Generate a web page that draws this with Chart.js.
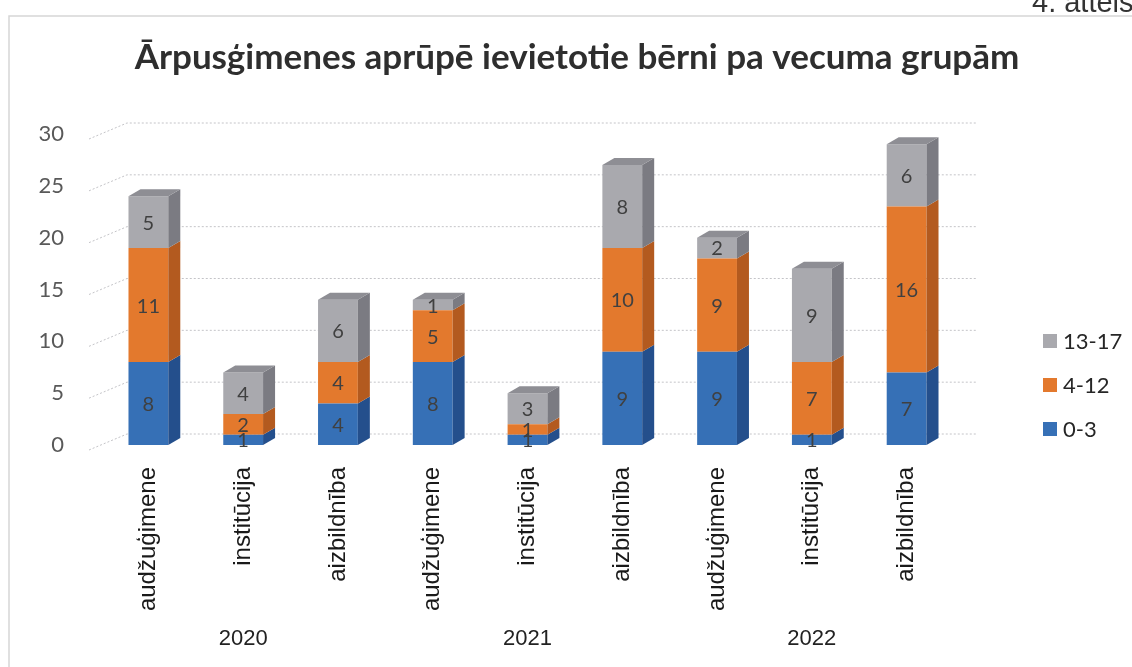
<!DOCTYPE html>
<html>
<head>
<meta charset="utf-8">
<script src="https://cdn.jsdelivr.net/npm/chart.js@4.4.1/dist/chart.umd.min.js"></script>
<style>
  html, body { margin: 0; padding: 0; background: #fff; }
  #wrap { position: relative; width: 1132px; height: 667px; }
</style>
</head>
<body>
<div id="wrap"><canvas id="myChart" width="1132" height="667"></canvas></div>
<script>
// --- dados ---
const categories = ['audžuģimene', 'institūcija', 'aizbildnība',
                    'audžuģimene', 'institūcija', 'aizbildnība',
                    'audžuģimene', 'institūcija', 'aizbildnība'];
const years = ['2020', '2021', '2022'];
const seriesLabels = ['0-3', '4-12', '13-17'];
const age0_3   = [8, 1, 4, 8, 1, 9, 9, 1, 7];
const age4_12  = [11, 2, 4, 5, 1, 10, 9, 7, 16];
const age13_17 = [5, 4, 6, 1, 3, 8, 2, 9, 6];
const yMax = 30;
const yStep = 5;
const chartTitle = 'Ārpusģimenes aprūpē ievietotie bērni pa vecuma grupām';
const figureNote = '4. attēls';

// cores: frente, lateral, topo
const frontColors = ['#3670b6', '#e3792d', '#a9a9ae'];
const sideColors  = ['#244f8c', '#b35a1f', '#7b7b82'];
const topColors   = ['#2c5f9f', '#c96a25', '#8e8e94'];

const DX = 12, DY = 7;   // profundidade do efeito 3D

const decorPlugin = {
  id: 'decor',
  beforeDraw(chart) {
    const c = chart.ctx;
    c.save();
    c.fillStyle = '#fff';
    c.fillRect(0, 0, chart.width, chart.height);
    // moldura
    c.strokeStyle = '#d6d6d6';
    c.lineWidth = 1.5;
    c.beginPath();
    c.moveTo(9, chart.height);
    c.lineTo(9, 16);
    c.lineTo(chart.width, 16);
    c.stroke();
    // nota da figura
    c.fillStyle = '#333';
    c.font = '29px "Liberation Sans Narrow", "Liberation Sans", sans-serif';
    c.textAlign = 'left';
    c.textBaseline = 'alphabetic';
    c.fillText(figureNote, 1032, 12);
    c.restore();
  },
  beforeDatasetsDraw(chart) {
    // grelha "parede de fundo"
    const c = chart.ctx, a = chart.chartArea, y = chart.scales.y;
    c.save();
    c.strokeStyle = '#c4c4c8';
    c.lineWidth = 1;
    c.setLineDash([2, 2]);
    for (let v = 0; v <= yMax; v += yStep) {
      const py = y.getPixelForValue(v);
      c.beginPath();
      c.moveTo(a.left - 12, py + 5);
      c.lineTo(a.left + 26, py - 11);
      c.lineTo(a.right + 22, py - 11);
      c.stroke();
    }
    c.restore();
  },
  afterDatasetsDraw(chart) {
    const c = chart.ctx;
    const n = chart.data.datasets.length;
    c.save();
    chart.data.datasets.forEach((ds, di) => {
      const meta = chart.getDatasetMeta(di);
      meta.data.forEach((bar) => {
        const p = bar.getProps(['x', 'y', 'base', 'width'], true);
        const r = p.x + p.width / 2, l = p.x - p.width / 2;
        // lateral
        c.fillStyle = sideColors[di];
        c.beginPath();
        c.moveTo(r, p.y);
        c.lineTo(r + DX, p.y - DY);
        c.lineTo(r + DX, p.base - DY);
        c.lineTo(r, p.base);
        c.closePath();
        c.fill();
        // topo (só a última série)
        if (di === n - 1) {
          c.fillStyle = topColors[di];
          c.beginPath();
          c.moveTo(l, p.y);
          c.lineTo(l + DX, p.y - DY);
          c.lineTo(r + DX, p.y - DY);
          c.lineTo(r, p.y);
          c.closePath();
          c.fill();
        }
      });
    });
    // rótulos de valores
    c.fillStyle = '#404040';
    c.font = '20px Lato, "Open Sans", sans-serif';
    c.textAlign = 'center';
    c.textBaseline = 'middle';
    chart.data.datasets.forEach((ds, di) => {
      const meta = chart.getDatasetMeta(di);
      meta.data.forEach((bar, i) => {
        const p = bar.getProps(['x', 'y', 'base'], true);
        c.fillText(String(ds.data[i]), p.x, (p.y + p.base) / 2 + 1);
      });
    });
    c.restore();
  },
  afterDraw(chart) {
    const c = chart.ctx, x = chart.scales.x;
    c.save();
    // título
    c.fillStyle = '#2e2e2e';
    c.font = 'bold 35px Lato, "Open Sans", sans-serif';
    c.textAlign = 'center';
    c.textBaseline = 'alphabetic';
    c.fillText(chartTitle, 577, 69);
    // anos
    c.fillStyle = '#222';
    c.textBaseline = 'middle';
    c.font = '22px "Liberation Sans Narrow", "Liberation Sans", sans-serif';
    const per = categories.length / years.length;
    years.forEach((yr, gi) => {
      const mid = gi * per + (per - 1) / 2;
      c.fillText(yr, x.getPixelForValue(mid), 639);
    });
    // legenda
    c.font = '22px Lato, "Open Sans", sans-serif';
    c.textAlign = 'left';
    const order = [2, 1, 0];
    order.forEach((di, k) => {
      const ly = 341 + k * 44;
      c.fillStyle = frontColors[di];
      c.fillRect(1043, ly - 7, 14, 14);
      c.fillStyle = '#262626';
      c.fillText(seriesLabels[di], 1063, ly + 1);
    });
    c.restore();
  }
};

const seriesData = [age0_3, age4_12, age13_17];
const datasets = seriesData.map((arr, i) => ({
  label: seriesLabels[i],
  data: arr,
  backgroundColor: frontColors[i],
  borderWidth: 0,
  barPercentage: 0.42,
  categoryPercentage: 1
}));

const ctx = document.getElementById('myChart').getContext('2d');
new Chart(ctx, {
  type: 'bar',
  data: { labels: categories, datasets: datasets },
  options: {
    responsive: false,
    animation: false,
    layout: { padding: { left: 0, right: 178, top: 134, bottom: 0 } },
    plugins: {
      legend: { display: false },
      title: { display: false },
      tooltip: { enabled: false }
    },
    scales: {
      x: {
        stacked: true,
        grid: { display: false },
        border: { display: false },
        ticks: {
          minRotation: 90,
          maxRotation: 90,
          padding: 14,
          color: '#1a1a1a',
          font: { family: '"Liberation Sans", Arial, sans-serif', size: 24 }
        },
        afterFit(scale) { scale.height = 222; }
      },
      y: {
        stacked: true,
        min: 0,
        max: yMax,
        grid: { display: false },
        border: { display: false },
        ticks: {
          stepSize: yStep,
          padding: 29,
          color: '#595959',
          font: { family: 'Lato, "Open Sans", sans-serif', size: 22 }
        },
        afterFit(scale) { scale.width = 101; }
      }
    }
  },
  plugins: [decorPlugin]
});
</script>
</body>
</html>
